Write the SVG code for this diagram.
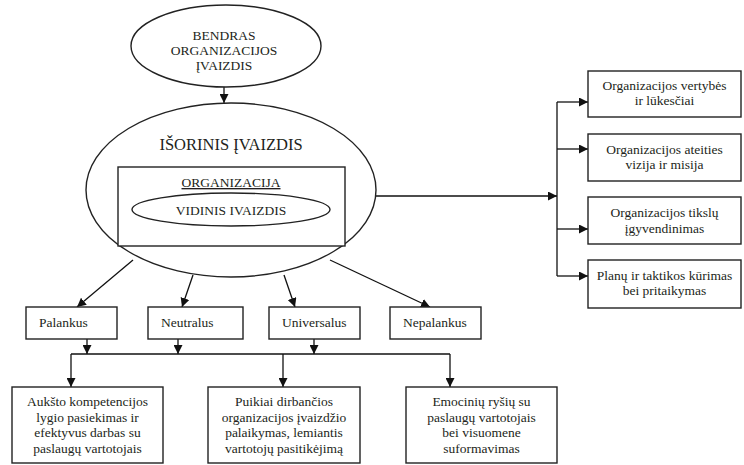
<svg xmlns="http://www.w3.org/2000/svg" width="744" height="465" viewBox="0 0 744 465">
<style>
.shape{fill:#fff;stroke:#222;stroke-width:1.4}
.t{font-family:"Liberation Serif","Times New Roman",serif;fill:#231f20;font-size:13.5px}
.c{text-anchor:middle}
.con{stroke:#111;stroke-width:1.3;fill:none}
</style>
<defs>
<marker id="ah" viewBox="0 0 10 10" refX="10" refY="5" markerWidth="9" markerHeight="9" markerUnits="userSpaceOnUse" orient="auto">
<path d="M0,0 L10,5 L0,10 z" fill="#111"/>
</marker>
</defs>
<rect width="744" height="465" fill="#fff"/>

<g id="connectors">
<line class="con" x1="224" y1="87" x2="224" y2="103" marker-end="url(#ah)"/>
<line class="con" x1="376" y1="196" x2="557" y2="196" marker-end="url(#ah)"/>
<line class="con" x1="557" y1="102" x2="557" y2="276"/>
<line class="con" x1="557" y1="102" x2="588" y2="102" marker-end="url(#ah)"/>
<line class="con" x1="557" y1="149" x2="588" y2="149" marker-end="url(#ah)"/>
<line class="con" x1="557" y1="229" x2="588" y2="229" marker-end="url(#ah)"/>
<line class="con" x1="557" y1="276" x2="588" y2="276" marker-end="url(#ah)"/>
<line class="con" x1="133" y1="260" x2="77" y2="307" marker-end="url(#ah)"/>
<line class="con" x1="193" y1="275" x2="182" y2="307" marker-end="url(#ah)"/>
<line class="con" x1="284" y1="275" x2="295" y2="307" marker-end="url(#ah)"/>
<line class="con" x1="330" y1="260" x2="430" y2="307" marker-end="url(#ah)"/>
<line class="con" x1="87" y1="339" x2="87" y2="354" marker-end="url(#ah)"/>
<line class="con" x1="178" y1="339" x2="178" y2="354" marker-end="url(#ah)"/>
<line class="con" x1="314" y1="339" x2="314" y2="354" marker-end="url(#ah)"/>
<line class="con" x1="71" y1="354" x2="450" y2="354"/>
<line class="con" x1="71" y1="354" x2="71" y2="387" marker-end="url(#ah)"/>
<line class="con" x1="283" y1="354" x2="283" y2="387" marker-end="url(#ah)"/>
<line class="con" x1="450" y1="354" x2="450" y2="387" marker-end="url(#ah)"/>
</g>

<g id="bendras">
<ellipse class="shape" cx="226" cy="46" rx="95" ry="41"/>
<text class="t c" x="224" y="40" font-size="13">BENDRAS</text>
<text class="t c" x="224" y="55" font-size="13">ORGANIZACIJOS</text>
<text class="t c" x="224" y="70" font-size="13">ĮVAIZDIS</text>
</g>

<g id="isorinis">
<ellipse class="shape" cx="231" cy="190" rx="145" ry="87"/>
<text class="t c" x="231" y="150" style="font-size:16.5px">IŠORINIS ĮVAIZDIS</text>
</g>

<g id="organizacija">
<rect class="shape" x="118" y="167" width="227" height="79"/>
<text class="t c" x="231" y="187" text-decoration="underline">ORGANIZACIJA</text>
</g>

<g id="vidinis">
<ellipse class="shape" cx="231" cy="209.5" rx="99" ry="16.5"/>
<text class="t c" x="231" y="215">VIDINIS IVAIZDIS</text>
</g>

<g id="vertybes">
<rect class="shape" x="588" y="71" width="153" height="46"/>
<text class="t c" x="664.5" y="90" font-size="13">Organizacijos vertybės</text>
<text class="t c" x="664.5" y="105" font-size="13">ir lūkesčiai</text>
</g>
<g id="vizija">
<rect class="shape" x="588" y="134" width="153" height="47"/>
<text class="t c" x="664.5" y="154" font-size="13">Organizacijos ateities</text>
<text class="t c" x="664.5" y="169" font-size="13">vizija ir misija</text>
</g>
<g id="tikslu">
<rect class="shape" x="588" y="197" width="153" height="47"/>
<text class="t c" x="664.5" y="217" font-size="13">Organizacijos tikslų</text>
<text class="t c" x="664.5" y="233" font-size="13">įgyvendinimas</text>
</g>
<g id="planu">
<rect class="shape" x="588" y="260" width="153" height="48"/>
<text class="t c" x="664.5" y="280" font-size="13">Planų ir taktikos kūrimas</text>
<text class="t c" x="664.5" y="295" font-size="13">bei pritaikymas</text>
</g>

<g id="palankus">
<rect class="shape" x="26" y="307" width="91" height="32"/>
<text class="t" x="39" y="327">Palankus</text>
</g>
<g id="neutralus">
<rect class="shape" x="148" y="307" width="95" height="32"/>
<text class="t" x="161" y="327">Neutralus</text>
</g>
<g id="universalus">
<rect class="shape" x="269" y="307" width="91" height="32"/>
<text class="t" x="282" y="327">Universalus</text>
</g>
<g id="nepalankus">
<rect class="shape" x="390" y="307" width="91" height="32"/>
<text class="t" x="403" y="327">Nepalankus</text>
</g>

<g id="kompetencijos">
<rect class="shape" x="12" y="387" width="151" height="76"/>
<text class="t c" x="87.5" y="406">Aukšto kompetencijos</text>
<text class="t c" x="87.5" y="421.5">lygio pasiekimas ir</text>
<text class="t c" x="87.5" y="437">efektyvus darbas su</text>
<text class="t c" x="87.5" y="452.5">paslaugų vartotojais</text>
</g>
<g id="palaikymas">
<rect class="shape" x="208" y="387" width="152" height="76"/>
<text class="t c" x="284" y="406">Puikiai dirbančios</text>
<text class="t c" x="284" y="421.5">organizacijos įvaizdžio</text>
<text class="t c" x="284" y="437">palaikymas, lemiantis</text>
<text class="t c" x="284" y="452.5">vartotojų pasitikėjimą</text>
</g>
<g id="emociniu">
<rect class="shape" x="406" y="387" width="151" height="76"/>
<text class="t c" x="481.5" y="406">Emocinių ryšių su</text>
<text class="t c" x="481.5" y="421.5">paslaugų vartotojais</text>
<text class="t c" x="481.5" y="437">bei visuomene</text>
<text class="t c" x="481.5" y="452.5">suformavimas</text>
</g>
</svg>
